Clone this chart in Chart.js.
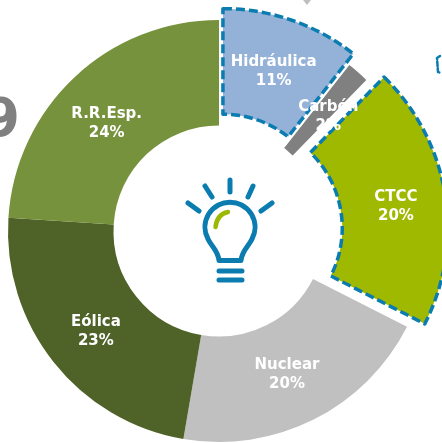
<!DOCTYPE html>
<html><head><meta charset="utf-8">
<script src="https://cdn.jsdelivr.net/npm/chart.js@4"></script>
<style>
html,body{margin:0;padding:0;width:442px;height:443px;overflow:hidden;background:#fff}
#wrap{position:absolute;left:-31px;top:-19px;width:500px;height:500px}
#nine{position:absolute;right:422px;top:87px;font:bold 53px "DejaVu Sans";color:#808080;line-height:62px}
svg{position:absolute;left:0;top:0}
</style></head><body>
<div id="nine">9</div>
<div id="wrap"><canvas id="c" width="500" height="500"></canvas></div>
<svg width="442" height="443" viewBox="0 0 442 443" fill="none" stroke-linecap="round" stroke-linejoin="round">
 <g stroke="#0a7cb0" stroke-width="5">
  <path d="M230 180V192M205 186L212 197M253 186L248 197M188 203L199 211M272 203L261 211"/>
  <path d="M219 260.5H241C242 250 249 246 252 239A25 25 0 1 0 208 239C211 246 218 250 219 260.5Z"/>
  <path d="M219 271H242M219 280H242"/>
 </g>
 <path d="M215.5 227Q217 214 228 212" stroke="#9cb800" stroke-width="4.5"/>
 <path d="M440 56L437 58L438 72L441 73" stroke="#0a7cb0" stroke-width="2.5" stroke-dasharray="5 2"/>
 <path d="M303 0H311L307 5Z" fill="#bfbfbf" stroke="none"/>
</svg>
<script>
const categories=["Hidráulica","Carbón","CTCC","Nuclear","Eólica","R.R.Esp."];
const percentLabels=["11%","2%","20%","20%","23%","24%"];
const values=[10.6,1.7,20.2,20.2,23.3,24];
const colors=["#94b2d8","#808080","#9fb800","#c0c0c0","#4f6228","#76923c"];
const explode=[12,0,18,0,0,0];
const borderWidths=[3.5,0,3.5,0,0,0];
const labelNudgeX=[-1,5,3,-3,1,-4];
const labelNudgeY=[2,5,4,2,2,8];
function shift(a,i){const m=(a.startAngle+a.endAngle)/2;return {x:Math.cos(m)*explode[i],y:Math.sin(m)*explode[i]};}
const origDraw=Chart.ArcElement.prototype.draw;
Chart.ArcElement.prototype.draw=function(ctx,area){
  const i=this.$context?this.$context.index:0,s=shift(this,i);
  ctx.save();ctx.translate(s.x,s.y);origDraw.call(this,ctx,area);ctx.restore();};
const labelsPlugin={id:"sliceLabels",afterDatasetsDraw(chart){
  const ctx=chart.ctx,arcs=chart.getDatasetMeta(0).data;
  ctx.save();ctx.fillStyle="#fff";ctx.font='bold 15px "DejaVu Sans"';ctx.textAlign="center";ctx.textBaseline="middle";
  arcs.forEach((a,i)=>{const p=a.getCenterPoint(),s=shift(a,i);
    const x=p.x+s.x+labelNudgeX[i],y=p.y+s.y+labelNudgeY[i];
    ctx.fillText(categories[i],x,y-9.5);ctx.fillText(percentLabels[i],x,y+9.5);});
  ctx.restore();}};
new Chart(document.getElementById("c"),{type:"doughnut",
 data:{labels:categories,datasets:[{data:values,backgroundColor:colors,
   borderWidth:borderWidths,borderColor:"#0a7cb0",borderDash:[9,4],borderJoinStyle:"round",borderAlign:"center"}]},
 options:{responsive:false,animation:false,radius:211,cutout:"50%",
   layout:{padding:0},plugins:{legend:{display:false},tooltip:{enabled:false}}},
 plugins:[labelsPlugin]});
</script>
</body></html>
